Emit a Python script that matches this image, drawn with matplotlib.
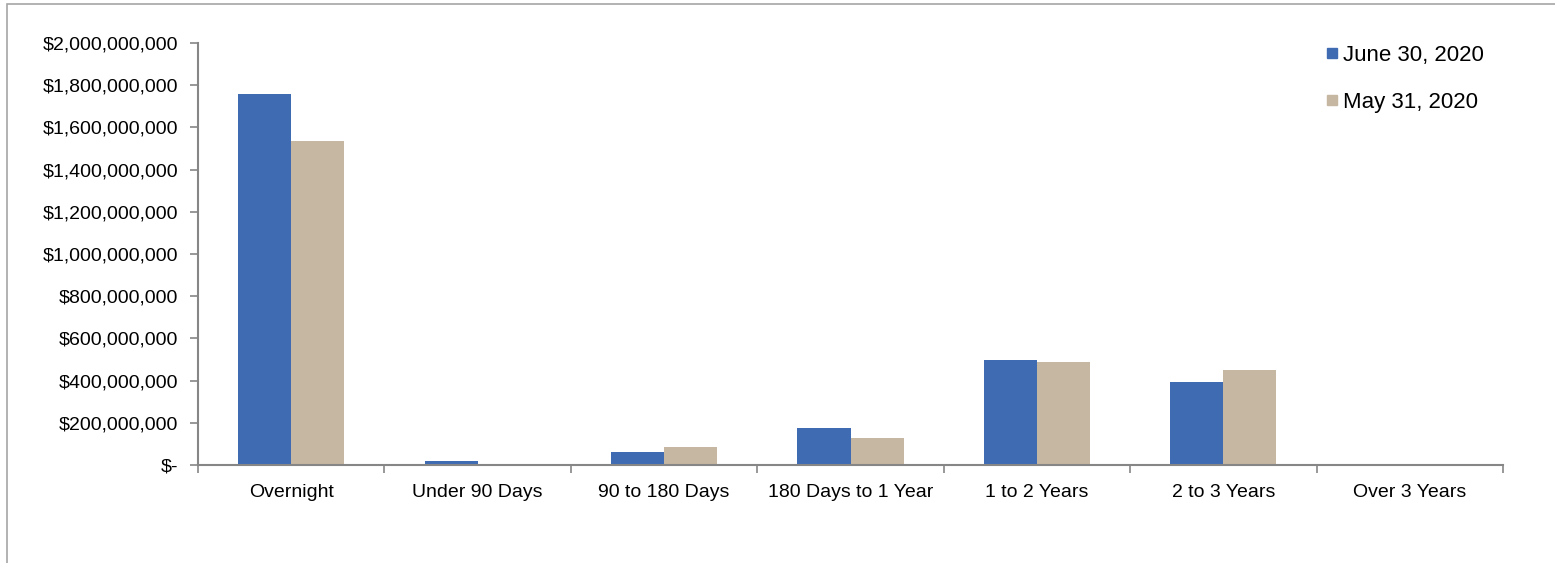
import numpy as np
import matplotlib.pyplot as plt
from matplotlib.ticker import FuncFormatter, FixedLocator
from matplotlib.patches import Rectangle
from matplotlib.lines import Line2D

plt.rcParams['font.family'] = ['Liberation Sans', 'DejaVu Sans']

categories = ["Overnight", "Under 90 Days", "90 to 180 Days", "180 Days to 1 Year",
              "1 to 2 Years", "2 to 3 Years", "Over 3 Years"]
june_2020 = [1758e6, 19e6, 62e6, 175e6, 498e6, 393e6, 0]
may_2020 = [1535e6, 0, 83e6, 128e6, 488e6, 450e6, 0]
series_names = ["June 30, 2020", "May 31, 2020"]

blue = "#3F6BB3"
tan = "#C6B7A2"
axis_gray = "#868686"

fig = plt.figure(figsize=(15.55, 5.63), dpi=100)
ax = fig.add_axes([198 / 1555, 98 / 563, 1305 / 1555, 422 / 563])

# outer chart frame (only top and left edges fall inside the image)
fig.patches.append(Rectangle((7 / 1555, -0.1), 1.2, (559 / 563) + 0.1,
                             transform=fig.transFigure, fill=False,
                             edgecolor="#A6A6A6", linewidth=1.2))

x = np.arange(len(categories))
w = 0.285
ax.bar(x - w / 2, june_2020, width=w, color=blue, label=series_names[0])
ax.bar(x + w / 2, may_2020, width=w, color=tan, label=series_names[1])

ax.set_xlim(-0.5, len(categories) - 0.5)
ax.set_ylim(0, 2e9)
ax.set_yticks(np.arange(0, 2.0e9 + 1, 2e8))


def money(v, pos):
    if v == 0:
        return "$-"
    return "${:,.0f}".format(v)


ax.yaxis.set_major_formatter(FuncFormatter(money))
ax.set_xticks(x)
ax.set_xticklabels(categories)
ax.xaxis.set_minor_locator(FixedLocator(np.arange(-0.5, len(categories), 1.0)))

for side in ["top", "right"]:
    ax.spines[side].set_visible(False)
for side in ["left", "bottom"]:
    ax.spines[side].set_color(axis_gray)
    ax.spines[side].set_linewidth(1.5)

ax.tick_params(axis="y", direction="out", length=6, width=1.2, color=axis_gray,
               labelsize=14, pad=8, labelcolor="black")
ax.tick_params(axis="x", which="major", length=0, labelsize=14, pad=14, labelcolor="black")
ax.tick_params(axis="x", which="minor", direction="out", length=6, width=1.2, color=axis_gray)

handles = [Line2D([], [], marker="s", linestyle="none", markersize=7.6,
                  markerfacecolor=c, markeredgecolor=c) for c in (blue, tan)]
fig.legend(handles, series_names, loc="upper left",
           bbox_to_anchor=(1325 / 1555, 1 - 45 / 563), frameon=False,
           fontsize=16, labelspacing=1.15, handlelength=0.6,
           handletextpad=0.22, borderpad=0, borderaxespad=0)

fig.savefig("out.png", dpi=100)
